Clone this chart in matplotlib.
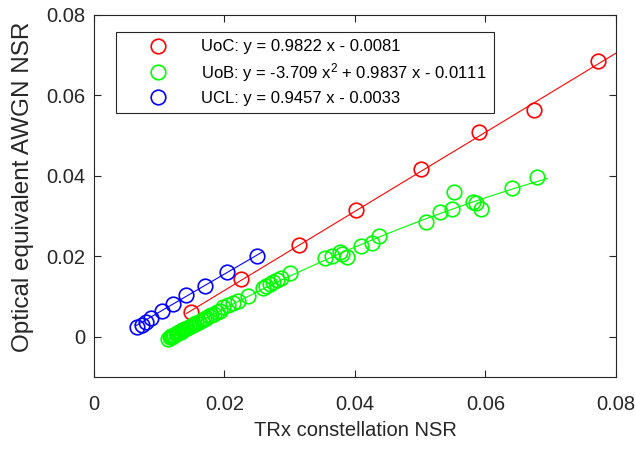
import numpy as np
import matplotlib
matplotlib.use('Agg')
import matplotlib.pyplot as plt

plt.rcParams['font.family'] = ['Liberation Sans', 'DejaVu Sans']
plt.rcParams['mathtext.fontset'] = 'custom'
plt.rcParams['mathtext.rm'] = 'Liberation Sans'
plt.rcParams['mathtext.it'] = 'Liberation Sans:italic'

# UoC measurements
uoc_x = [0.0149, 0.0226, 0.0314, 0.0401, 0.0501, 0.0590, 0.0675, 0.0772]
uoc_y = [0.0062, 0.0143, 0.0229, 0.0314, 0.0417, 0.0508, 0.0563, 0.0685]

# UoB measurements
uob_x = [0.0113, 0.0116, 0.0118, 0.0120, 0.0121, 0.0123, 0.0125, 0.0127, 0.0129,
         0.0131, 0.0133, 0.0135, 0.0137, 0.0140, 0.0142, 0.0145, 0.0148, 0.0151,
         0.0154, 0.0157, 0.0161, 0.0165, 0.0168, 0.0172, 0.0176, 0.0180, 0.0184,
         0.0188, 0.0193, 0.0198, 0.0205, 0.0213, 0.0221, 0.0236, 0.0259, 0.0264,
         0.0270, 0.0274, 0.0280, 0.0287, 0.0300, 0.0354, 0.0365, 0.0377, 0.0380,
         0.0388, 0.0409, 0.0426, 0.0437, 0.0509, 0.0530, 0.0549, 0.0552, 0.0581,
         0.0585, 0.0593, 0.0641, 0.0679]
uob_y = [-0.0004, -0.0001, 0.0001, 0.0000, 0.0003, 0.0005, 0.0006, 0.0009, 0.0010,
         0.0012, 0.0013, 0.0016, 0.0017, 0.0020, 0.0022, 0.0024, 0.0027, 0.0029,
         0.0033, 0.0035, 0.0038, 0.0042, 0.0044, 0.0048, 0.0051, 0.0055, 0.0057,
         0.0061, 0.0065, 0.0075, 0.0080, 0.0084, 0.0089, 0.0102, 0.0122, 0.0127,
         0.0132, 0.0137, 0.0142, 0.0147, 0.0159, 0.0196, 0.0201, 0.0211, 0.0206,
         0.0199, 0.0226, 0.0234, 0.0251, 0.0286, 0.0311, 0.0318, 0.0360, 0.0335,
         0.0333, 0.0318, 0.0370, 0.0398]

# UCL measurements
ucl_x = [0.0066, 0.0074, 0.0080, 0.0087, 0.0104, 0.0121, 0.0141, 0.0170, 0.0204, 0.0250]
ucl_y = [0.0025, 0.0030, 0.0037, 0.0047, 0.0065, 0.0082, 0.0104, 0.0127, 0.0162, 0.0201]

# fit coefficients (highest power first) and x span of each fit line
uoc_fit = [0.9822, -0.0081]
uob_fit = [-3.709, 0.9837, -0.0111]
ucl_fit = [0.9457, -0.0033]
uoc_span = [0.0142, 0.0800]
uob_span = [0.0115, 0.0695]
ucl_span = [0.0065, 0.0258]

labels = ['UoC: y = 0.9822 x - 0.0081',
          'UoB: y = -3.709 x$^2$ + 0.9837 x - 0.0111',
          'UCL: y = 0.9457 x - 0.0033']

ticks = [0, 0.02, 0.04, 0.06, 0.08]
tick_labels = ['0', '0.02', '0.04', '0.06', '0.08']

fig = plt.figure(figsize=(6.35, 4.49), dpi=100)
ax = fig.add_axes([0.148, 0.160, 0.822, 0.807])

sets = [(uoc_x, uoc_y, uoc_fit, uoc_span, (1, 0, 0)),
        (uob_x, uob_y, uob_fit, uob_span, (0, 1, 0)),
        (ucl_x, ucl_y, ucl_fit, ucl_span, (0, 0, 1))]

handles = []
for (xs, ys, fit, span, col), lab in zip(sets, labels):
    h, = ax.plot(xs, ys, 'o', mfc='none', mec=col, ms=10.5, mew=1.2, label=lab)
    handles.append(h)
    xf = np.linspace(span[0], span[1], 200)
    ax.plot(xf, np.polyval(fit, xf), '-', color=col, lw=0.8)

ax.set_xlim(0, 0.08)
ax.set_ylim(-0.01, 0.08)
ax.set_xticks(ticks)
ax.set_xticklabels(tick_labels)
ax.set_yticks(ticks)
ax.set_yticklabels(tick_labels)
ax.tick_params(direction='in', top=True, right=True, length=5, width=0.8,
               color='0.15', labelsize=14.5, labelcolor='0.15')
ax.tick_params(axis='x', pad=13)
ax.tick_params(axis='y', pad=6)
for s in ax.spines.values():
    s.set_color('0.15')
    s.set_linewidth(0.8)

ax.set_xlabel('TRx constellation NSR', fontsize=14.5, color='0.15', labelpad=5)
ax.set_ylabel('Optical equivalent AWGN NSR', fontsize=17.5, color='0.15')
ax.yaxis.set_label_coords(-0.115, 0.525)

leg = ax.legend(handles=handles, loc='upper left', bbox_to_anchor=(0.042, 0.953),
                borderaxespad=0, fontsize=12, fancybox=False, framealpha=1,
                edgecolor='0.15', handlelength=4.2, handletextpad=0.45,
                labelspacing=0.4, borderpad=0.45)
leg.get_frame().set_linewidth(0.8)

fig.savefig('out.png', dpi=100)
